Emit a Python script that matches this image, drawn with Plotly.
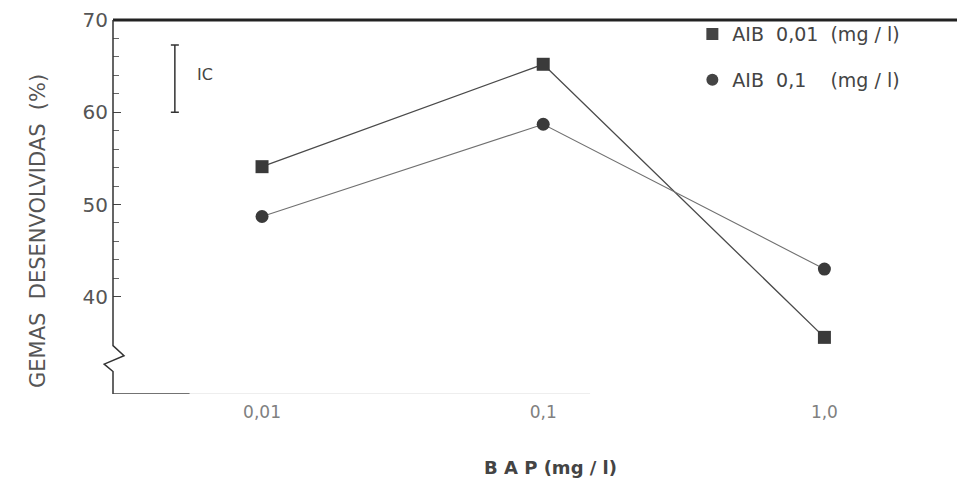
import plotly.graph_objects as go

# ---- data ----
bap_labels = ["0,01", "0,1", "1,0"]
bap_pos = [0, 1, 2]                 # log10-spaced category positions
aib_001 = [54.1, 65.2, 35.6]        # AIB 0,01 (mg/l)
aib_01 = [48.7, 58.7, 43.0]         # AIB 0,1 (mg/l)
series_names = ["AIB  0,01  (mg / l)", "AIB  0,1    (mg / l)"]
ic_low, ic_high = 60.0, 67.3        # IC bar
y_ticks = [40, 50, 60, 70]
y_minor = [42, 44, 46, 48, 52, 54, 56, 58, 62, 64, 66, 68]

FONT = "DejaVu Sans"
DARK = "#3a3a3a"

fig = go.Figure()

fig.add_trace(go.Scatter(
    x=bap_pos, y=aib_001, mode="lines+markers", showlegend=False,
    line=dict(color="#4a4a4a", width=1.3),
    marker=dict(symbol="square", size=13, color=DARK),
))
fig.add_trace(go.Scatter(
    x=bap_pos, y=aib_01, mode="lines+markers", showlegend=False,
    line=dict(color="#707070", width=1.1),
    marker=dict(symbol="circle", size=13, color=DARK),
))
# legend entries (marker only)
fig.add_trace(go.Scatter(
    x=[None], y=[None], mode="markers", name=series_names[0], legendgroup="a",
    marker=dict(symbol="square", size=12, color="#444"),
))
fig.add_trace(go.Scatter(
    x=[None], y=[None], mode="markers", name=series_names[1], legendgroup="b",
    marker=dict(symbol="circle", size=12, color="#444"),
))

# IC bar
ic_mid = (ic_low + ic_high) / 2
fig.add_trace(go.Scatter(
    x=[-0.31], y=[ic_mid], mode="markers", showlegend=False,
    marker=dict(size=1, color="rgba(0,0,0,0)"),
    error_y=dict(type="data", array=[ic_high - ic_mid], color="#333",
                 thickness=1.5, width=4),
    hoverinfo="skip",
))

y0 = 29.46
x_lo, x_hi = -0.53, 2.5
dxp = 11 / 852

shapes = [
    # top frame line
    dict(type="line", xref="paper", yref="paper", x0=0, x1=1.01, y0=1, y1=1,
         line=dict(color="#222", width=3)),
    # y axis line with break
    dict(type="path", xref="paper", yref="y",
         path=(f"M 0,70 L 0,34.7 L {dxp},33.6 L {-0.8*dxp},32.7 "
               f"L 0,31.9 L 0,{y0}"),
         line=dict(color="#333", width=1.5)),
    # bottom axis line
    dict(type="line", xref="paper", yref="y", x0=0, x1=0.09, y0=y0, y1=y0,
         line=dict(color="#444", width=1.5)),
    dict(type="line", xref="paper", yref="y", x0=0.09, x1=0.56, y0=y0, y1=y0,
         line=dict(color="#dddddd", width=1)),
]

annotations = [
    dict(x=-0.31, y=ic_mid + 0.4, xref="x", yref="y", text="IC",
         showarrow=False, xanchor="left", xshift=20,
         font=dict(family=FONT, size=16, color="#444")),
    dict(x=-0.088, y=0.436, xref="paper", yref="paper",
         text="GEMAS  DESENVOLVIDAS  (%)", textangle=-90, showarrow=False,
         xanchor="center", yanchor="middle",
         font=dict(family=FONT, size=21, color="#555")),
    dict(x=0.513, y=-0.197, xref="paper", yref="paper",
         text="<b>B A P (mg / l)</b>", showarrow=False, yanchor="middle",
         font=dict(family=FONT, size=18, color="#444")),
]

# page body has an 8px margin; figure is sized/positioned to compensate
fig.update_layout(
    width=957, height=476,
    margin=dict(l=105, r=0, t=9, b=90),
    paper_bgcolor="white", plot_bgcolor="white",
    showlegend=True,
    legend=dict(x=0.68, y=1.013, xanchor="left", yanchor="top",
                tracegroupgap=18, bgcolor="rgba(0,0,0,0)",
                font=dict(family=FONT, size=19, color="#444")),
    xaxis=dict(range=[x_lo, x_hi], tickvals=bap_pos, ticktext=bap_labels,
               showgrid=False, zeroline=False, showline=False, ticks="",
               ticklabelstandoff=6,
               tickfont=dict(family=FONT, size=17, color="#808080")),
    yaxis=dict(range=[y0, 70], tickvals=y_ticks, showgrid=False,
               zeroline=False, showline=False, ticks="inside", ticklen=8,
               tickcolor="#444", tickwidth=1.2, ticklabelstandoff=4,
               ticklabeloverflow="allow",
               minor=dict(tickvals=y_minor, ticks="inside", ticklen=6,
                          tickcolor="#666", tickwidth=1),
               tickfont=dict(family=FONT, size=20, color="#555")),
    shapes=shapes, annotations=annotations,
)

fig.write_html("out.html")
